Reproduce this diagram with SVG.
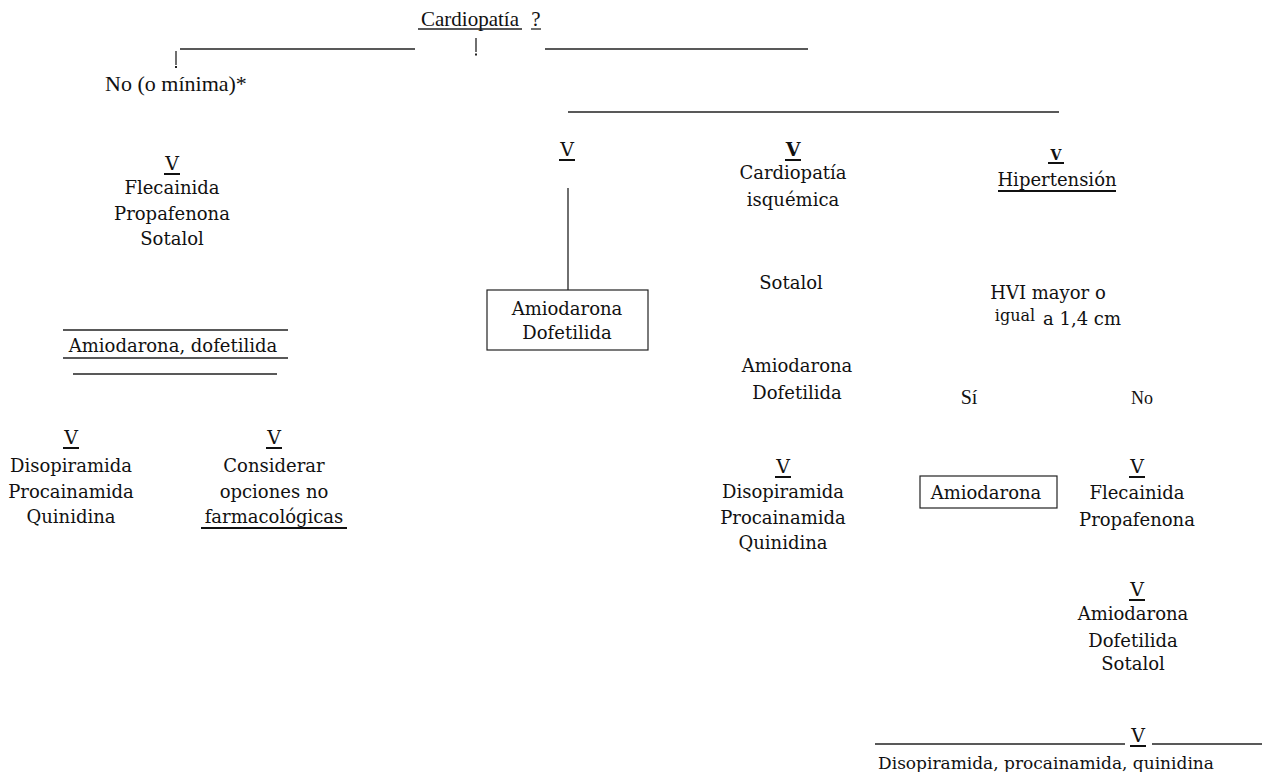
<svg xmlns="http://www.w3.org/2000/svg" width="1263" height="772" viewBox="0 0 1263 772">
<style>
text{font-family:"DejaVu Serif","Liberation Serif",serif;font-size:18px;fill:#111;text-anchor:middle}
.t{font-family:"Liberation Serif",serif;font-size:21px}
.v{font-size:19px}
.b{font-weight:bold}
.ln{stroke:#222;stroke-width:1.3;fill:none}
.ul{stroke:#111;stroke-width:2;fill:none}
.box{stroke:#222;stroke-width:1.2;fill:#fff}
</style>
<rect width="1263" height="772" fill="#fff"/>
<g id="connectors">
<line class="ln" x1="180" y1="49" x2="415" y2="49"/>
<line class="ln" x1="545" y1="49" x2="808" y2="49"/>
<line class="ln" x1="476" y1="38" x2="476" y2="52" stroke-width="1"/>
<rect x="475" y="53.5" width="2" height="2" fill="#222"/>
<line class="ln" x1="176" y1="51" x2="176" y2="65" stroke-width="1"/>
<rect x="175" y="66" width="2" height="2" fill="#222"/>
<line class="ln" x1="568" y1="112" x2="1059" y2="112"/>
<line class="ln" x1="568" y1="188" x2="568" y2="290"/>
<line class="ln" x1="63" y1="330" x2="288" y2="330"/>
<line class="ln" x1="63" y1="358" x2="288" y2="358"/>
<line class="ln" x1="73" y1="374" x2="277" y2="374"/>
<line class="ln" x1="875" y1="744" x2="1125" y2="744"/>
<line class="ln" x1="1152" y1="744" x2="1262" y2="744"/>
</g>
<g id="root">
<text class="t" x="470" y="26">Cardiopatía</text>
<line class="ln" x1="418" y1="29" x2="522" y2="29"/>
<text class="t" x="536" y="26">?</text>
<line class="ln" x1="531" y1="29" x2="541" y2="29"/>
</g>
<g id="no-minima">
<text class="t" x="176" y="91" style="font-size:22px">No (o mínima)*</text>
</g>
<g id="left-drugs">
<text class="v" x="172" y="170">V</text>
<line class="ul" x1="164" y1="174" x2="180" y2="174"/>
<text x="172" y="194">Flecainida</text>
<text x="172" y="220">Propafenona</text>
<text x="172" y="245">Sotalol</text>
</g>
<g id="left-amio">
<text x="173" y="352">Amiodarona, dofetilida</text>
</g>
<g id="left-diso">
<text class="v" x="71" y="444">V</text>
<line class="ul" x1="63" y1="448" x2="79" y2="448"/>
<text x="71" y="472">Disopiramida</text>
<text x="71" y="498">Procainamida</text>
<text x="71" y="523">Quinidina</text>
</g>
<g id="left-nofarm">
<text class="v" x="274" y="444">V</text>
<line class="ul" x1="266" y1="448" x2="282" y2="448"/>
<text x="274" y="472">Considerar</text>
<text x="274" y="498">opciones no</text>
<text x="274" y="523">farmacológicas</text>
<line class="ul" x1="201" y1="528" x2="347" y2="528"/>
</g>
<g id="mid-v">
<text class="v" x="567" y="156">V</text>
<line class="ul" x1="559" y1="160" x2="575" y2="160"/>
</g>
<g id="mid-box">
<rect class="box" x="487" y="290" width="161" height="60"/>
<text x="567" y="315">Amiodarona</text>
<text x="567" y="339">Dofetilida</text>
</g>
<g id="isq">
<text class="v b" x="793" y="156">V</text>
<line class="ul" x1="785" y1="160" x2="801" y2="160"/>
<text x="793" y="179">Cardiopatía</text>
<text x="793" y="206">isquémica</text>
</g>
<g id="isq-sotalol"><text x="791" y="289">Sotalol</text></g>
<g id="isq-amio">
<text x="797" y="372">Amiodarona</text>
<text x="797" y="399">Dofetilida</text>
</g>
<g id="isq-diso">
<text class="v" x="783" y="473">V</text>
<line class="ul" x1="775" y1="477" x2="791" y2="477"/>
<text x="783" y="498">Disopiramida</text>
<text x="783" y="524">Procainamida</text>
<text x="783" y="549">Quinidina</text>
</g>
<g id="hta">
<text class="b" x="1056" y="160" style="font-size:14px">V</text>
<line class="ul" x1="1048" y1="163" x2="1064" y2="163"/>
<text x="1057" y="186">Hipertensión</text>
<line class="ul" x1="998" y1="191" x2="1116" y2="191"/>
</g>
<g id="hvi">
<text x="1048" y="299">HVI mayor o</text>
<text x="1015" y="321" style="font-size:16px">igual</text>
<text x="1082" y="325">a 1,4 cm</text>
</g>
<g id="si"><text class="t" x="969" y="404" style="font-size:20px">Sí</text></g>
<g id="no"><text class="t" x="1142" y="404" style="font-size:18px">No</text></g>
<g id="hvi-amio">
<rect class="box" x="920" y="476" width="137" height="32"/>
<text x="986" y="499">Amiodarona</text>
</g>
<g id="no-flec">
<text class="v" x="1137" y="473">V</text>
<line class="ul" x1="1129" y1="477" x2="1145" y2="477"/>
<text x="1137" y="499">Flecainida</text>
<text x="1137" y="526">Propafenona</text>
</g>
<g id="no-amio">
<text class="v" x="1137" y="596">V</text>
<line class="ul" x1="1129" y1="600" x2="1145" y2="600"/>
<text x="1133" y="620">Amiodarona</text>
<text x="1133" y="647">Dofetilida</text>
<text x="1133" y="670">Sotalol</text>
</g>
<g id="bottom">
<text class="v" x="1138" y="742">V</text>
<line class="ul" x1="1130" y1="746" x2="1146" y2="746"/>
<text x="1046" y="769" style="font-size:17px">Disopiramida, procainamida, quinidina</text>
</g>
</svg>
